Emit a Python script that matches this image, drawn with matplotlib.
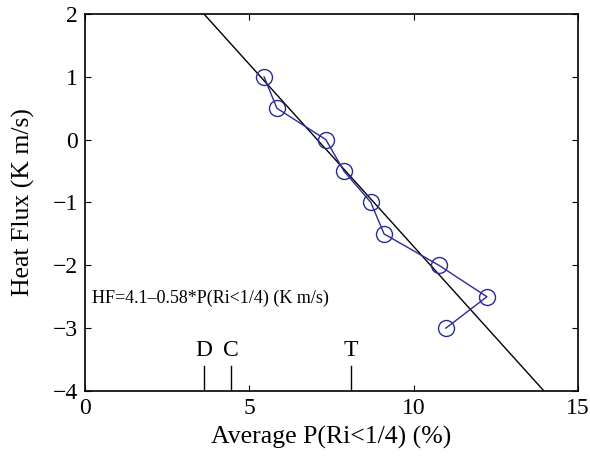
import matplotlib
matplotlib.use("Agg")
import matplotlib.pyplot as plt
import numpy as np

plt.rcParams['font.family'] = ['Liberation Serif', 'DejaVu Serif']
plt.rcParams['mathtext.fontset'] = 'stix'

p_ri = [5.45, 5.84, 7.33, 7.88, 8.70, 9.10, 10.77, 12.23, 10.98]
heat_flux = [1.0, 0.5, 0.0, -0.5, -1.0, -1.5, -2.0, -2.5, -3.0]
fit_intercept = 4.1
fit_slope = -0.58
marker_names = ['D', 'C', 'T']
marker_pos = [3.63, 4.43, 8.08]

fig = plt.figure(figsize=(5.9, 4.62), dpi=100)
ax = fig.add_axes([0.144, 0.1537, 0.8356, 0.816])

xs = np.array([0, 15])
ax.plot(xs, fit_intercept + fit_slope * xs, color='black', lw=1.0)
ax.plot(p_ri, heat_flux, color='#2a2a9a', lw=1.0, marker='o', ms=11.5,
        markerfacecolor='none', markeredgecolor='#2a2a9a', mew=1.0)

for name, pos in zip(marker_names, marker_pos):
    ax.plot([pos, pos], [-4, -3.6], color='black', lw=1.0)
    ax.text(pos, -3.35, name, ha='center', va='center', fontsize=17)

ax.text(0.2, -2.53, 'HF=4.1\u20130.58*P(Ri<1/4) (K m/s)', fontsize=13, va='center')

ax.set_xlim(0, 15)
ax.set_ylim(-4, 2)
ax.set_xticks([0, 5, 10, 15])
ax.set_yticks([-4, -3, -2, -1, 0, 1, 2])
ax.tick_params(direction='in', labelsize=17, length=4, top=True, right=True, pad=5)
for s in ax.spines.values():
    s.set_linewidth(1.2)
ax.set_xlabel('Average P(Ri<1/4) (%)', fontsize=18.5, labelpad=5)
ax.set_ylabel('Heat Flux (K m/s)', fontsize=18.5)
ax.yaxis.set_label_coords(-0.101, 0.5)

fig.savefig('out.png', dpi=100)
